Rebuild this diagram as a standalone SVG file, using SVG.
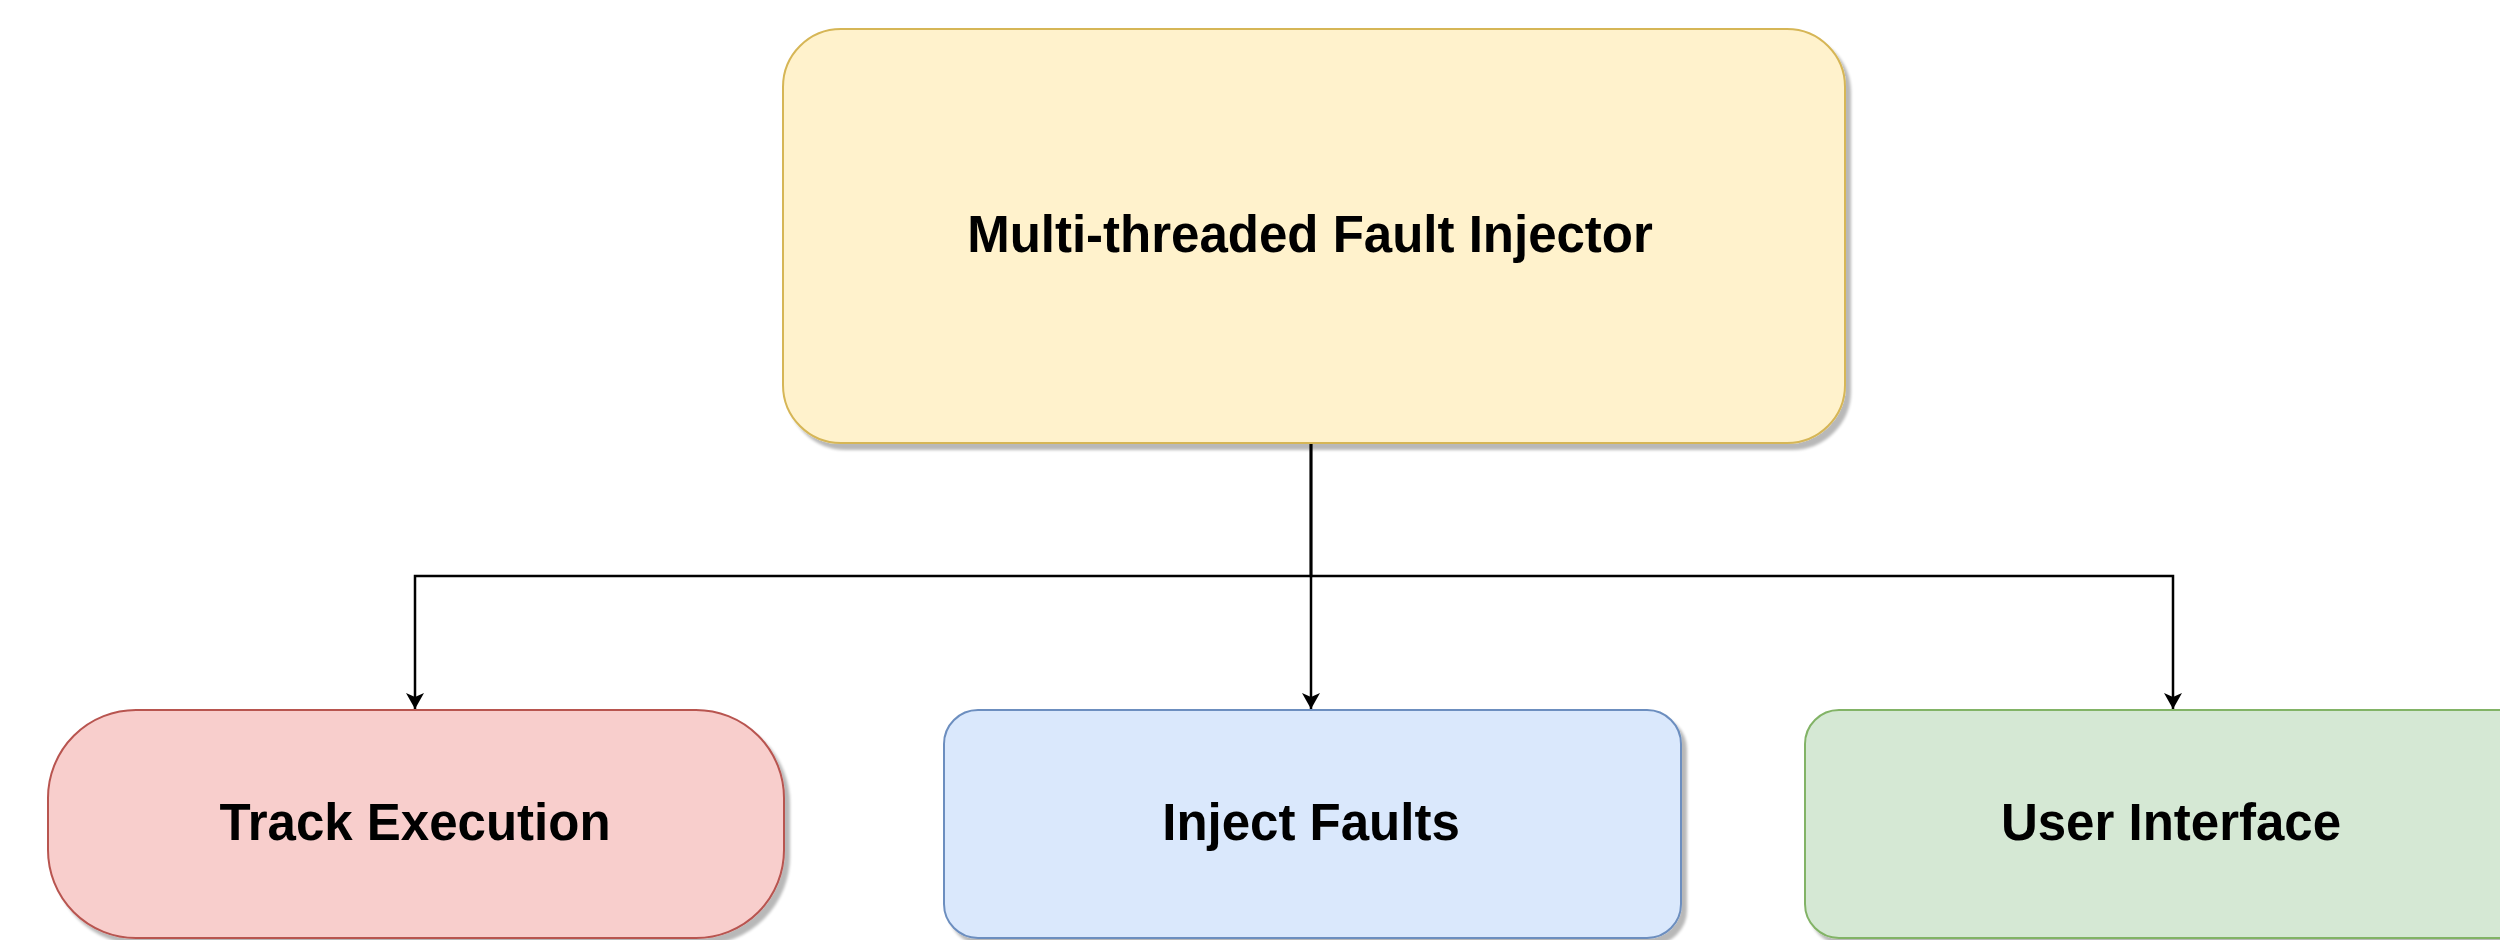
<svg xmlns="http://www.w3.org/2000/svg" width="2500" height="940" viewBox="0 0 2500 940">
  <defs>
    <filter id="shadow" x="-5%" y="-5%" width="115%" height="120%">
      <feGaussianBlur in="SourceAlpha" stdDeviation="1.5"/>
      <feOffset dx="5" dy="6" result="off"/>
      <feComponentTransfer><feFuncA type="linear" slope="0.28"/></feComponentTransfer>
      <feMerge><feMergeNode/><feMergeNode in="SourceGraphic"/></feMerge>
    </filter>
    <marker id="arrow" viewBox="0 0 16 18" refX="16" refY="9" markerWidth="16" markerHeight="18" markerUnits="userSpaceOnUse" orient="auto">
      <path d="M0,0 L16,9 L0,18 L4,9 Z" fill="#000"/>
    </marker>
  </defs>
  <style>
    .lbl { font-family: "Liberation Sans", Arial, Helvetica, sans-serif; font-weight: bold; font-size: 51px; fill: #000; text-anchor: middle; }
    .edge { fill: none; stroke: #000; stroke-width: 2.5; }
    .box { stroke-width: 2; filter: url(#shadow); }
  </style>
  <rect width="2500" height="940" fill="#fff"/>
  <g id="connectors">
    <path class="edge" d="M1311,443 L1311,576 L415,576 L415,709" marker-end="url(#arrow)"/>
    <path class="edge" d="M1311,443 L1311,709" marker-end="url(#arrow)"/>
    <path class="edge" d="M1311,443 L1311,576 L2173,576 L2173,709" marker-end="url(#arrow)"/>
  </g>
  <g id="node-fault-injector">
    <rect class="box" x="783" y="29" width="1062" height="414" rx="58" ry="58" fill="#fff2cc" stroke="#d6b656"/>
    <text class="lbl" x="1310" y="252">Multi-threaded Fault Injector</text>
  </g>
  <g id="node-track-execution">
    <rect class="box" x="48" y="710" width="736" height="228" rx="88" ry="88" fill="#f8cecc" stroke="#b85450"/>
    <text class="lbl" x="415" y="840">Track Execution</text>
  </g>
  <g id="node-inject-faults">
    <rect class="box" x="944" y="710" width="737" height="228" rx="34" ry="34" fill="#dae8fc" stroke="#6c8ebf"/>
    <text class="lbl" x="1311" y="840">Inject Faults</text>
  </g>
  <g id="node-user-interface">
    <rect class="box" x="1805" y="710" width="737" height="228" rx="34" ry="34" fill="#d5e8d4" stroke="#82b366"/>
    <text class="lbl" x="2171" y="840">User Interface</text>
  </g>
</svg>
